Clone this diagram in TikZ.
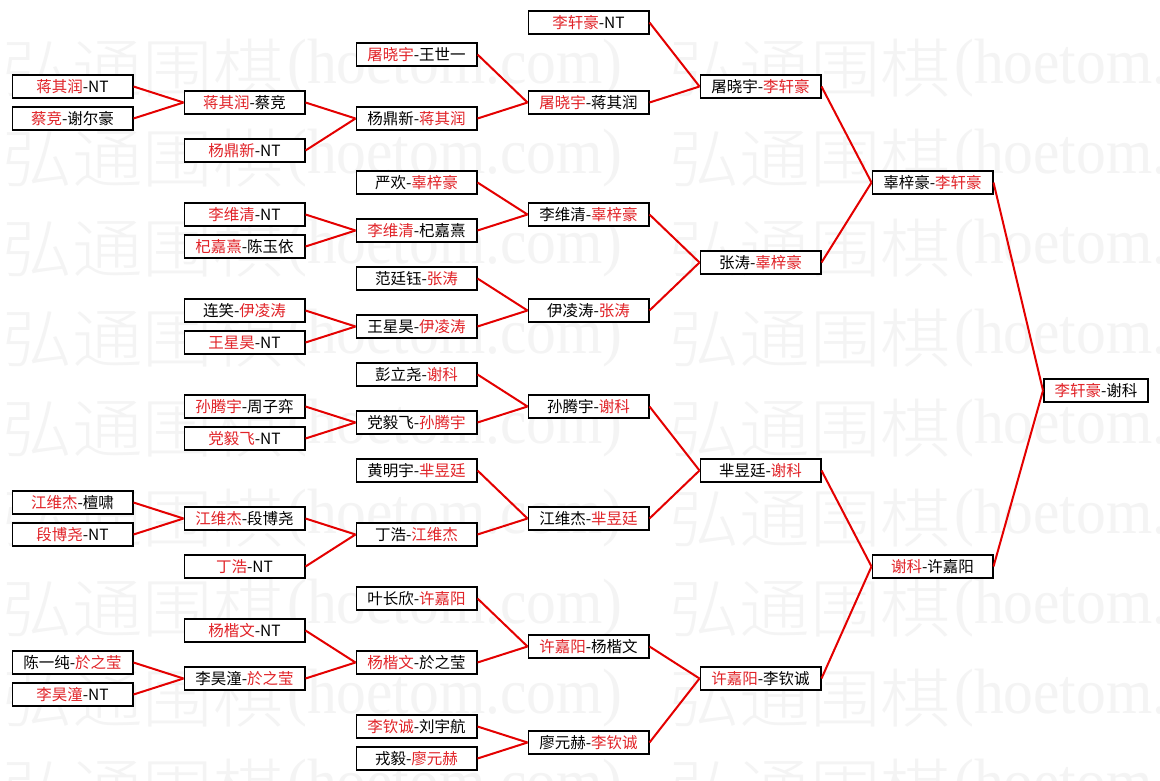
\documentclass[tikz,border=0pt]{standalone}
\usepackage{fontspec}
\setmainfont{Noto Sans CJK SC}
\newfontfamily\wmlatin{Liberation Serif}
\newfontfamily\wmcjk{Noto Sans CJK SC Light}
\definecolor{wred}{RGB}{225,35,40}
\definecolor{lred}{RGB}{228,0,0}
\definecolor{wmgray}{RGB}{244,244,244}
\newcommand{\R}[1]{\textcolor{wred}{#1}}
\tikzset{
  match/.style={draw=black, line width=1.8pt, fill=white, minimum width=120.2pt,
    minimum height=23.2pt, inner sep=0pt, font=\fontsize{15.5}{16}\selectfont},
  finalbox/.style={match, minimum width=104.2pt},
  link/.style={draw=lred, line width=2pt},
  wmark/.style={text=wmgray, inner sep=0pt, anchor=west, font=\fontsize{64}{64}\selectfont}
}
\begin{document}
\begin{tikzpicture}[x=1pt,y=-1pt]
\useasboundingbox (0,0) rectangle (1160,781);
\fill[white] (0,0) rectangle (1160,781);
\begin{scope}
\clip (0,0) rectangle (1160,781);
\foreach \y in {68,158,248,338,428,518,608,698,788}{
  \foreach \dx in {0,667}{
    \node[wmark] (wa) at (2+\dx,\y) {\scalebox{1.1}[1]{\wmcjk 弘通围棋}};
    \node[wmark] (wb) at (287+\dx,\y) {\scalebox{0.93}[1]{\wmlatin (hoetom.com)}};
  }
}
\end{scope}
% column 1
\node[match] (a1) at (72.5,86.5) {\R{蒋其润}-NT};
\node[match] (a2) at (72.5,118.5) {\R{蔡竞}-谢尔豪};
\node[match] (a3) at (72.5,502.5) {\R{江维杰}-檀啸};
\node[match] (a4) at (72.5,534.5) {\R{段博尧}-NT};
\node[match] (a5) at (72.5,662.5) {陈一纯-\R{於之莹}};
\node[match] (a6) at (72.5,694.5) {\R{李昊潼}-NT};
% column 2
\node[match] (b1) at (244.5,102.5) {\R{蒋其润}-蔡竞};
\node[match] (b2) at (244.5,150.5) {\R{杨鼎新}-NT};
\node[match] (b3) at (244.5,214.5) {\R{李维清}-NT};
\node[match] (b4) at (244.5,246.5) {\R{杞嘉熹}-陈玉依};
\node[match] (b5) at (244.5,310.5) {连笑-\R{伊凌涛}};
\node[match] (b6) at (244.5,342.5) {\R{王星昊}-NT};
\node[match] (b7) at (244.5,406.5) {\R{孙腾宇}-周子弈};
\node[match] (b8) at (244.5,438.5) {\R{党毅飞}-NT};
\node[match] (b9) at (244.5,518.5) {\R{江维杰}-段博尧};
\node[match] (b10) at (244.5,566.5) {\R{丁浩}-NT};
\node[match] (b11) at (244.5,630.5) {\R{杨楷文}-NT};
\node[match] (b12) at (244.5,678.5) {李昊潼-\R{於之莹}};
% column 3
\node[match] (c1) at (416.5,54.5) {\R{屠晓宇}-王世一};
\node[match] (c2) at (416.5,118.5) {杨鼎新-\R{蒋其润}};
\node[match] (c3) at (416.5,182.5) {严欢-\R{辜梓豪}};
\node[match] (c4) at (416.5,230.5) {\R{李维清}-杞嘉熹};
\node[match] (c5) at (416.5,278.5) {范廷钰-\R{张涛}};
\node[match] (c6) at (416.5,326.5) {王星昊-\R{伊凌涛}};
\node[match] (c7) at (416.5,374.5) {彭立尧-\R{谢科}};
\node[match] (c8) at (416.5,422.5) {党毅飞-\R{孙腾宇}};
\node[match] (c9) at (416.5,470.5) {黄明宇-\R{芈昱廷}};
\node[match] (c10) at (416.5,534.5) {丁浩-\R{江维杰}};
\node[match] (c11) at (416.5,598.5) {叶长欣-\R{许嘉阳}};
\node[match] (c12) at (416.5,662.5) {\R{杨楷文}-於之莹};
\node[match] (c13) at (416.5,726.5) {\R{李钦诚}-刘宇航};
\node[match] (c14) at (416.5,758.5) {戎毅-\R{廖元赫}};
% column 4
\node[match] (d1) at (588.5,22.5) {\R{李轩豪}-NT};
\node[match] (d2) at (588.5,102.5) {\R{屠晓宇}-蒋其润};
\node[match] (d3) at (588.5,214.5) {李维清-\R{辜梓豪}};
\node[match] (d4) at (588.5,310.5) {伊凌涛-\R{张涛}};
\node[match] (d5) at (588.5,406.5) {孙腾宇-\R{谢科}};
\node[match] (d6) at (588.5,518.5) {江维杰-\R{芈昱廷}};
\node[match] (d7) at (588.5,646.5) {\R{许嘉阳}-杨楷文};
\node[match] (d8) at (588.5,742.5) {廖元赫-\R{李钦诚}};
% column 5
\node[match] (e1) at (760.5,86.5) {屠晓宇-\R{李轩豪}};
\node[match] (e2) at (760.5,262.5) {张涛-\R{辜梓豪}};
\node[match] (e3) at (760.5,470.5) {芈昱廷-\R{谢科}};
\node[match] (e4) at (760.5,678.5) {\R{许嘉阳}-李钦诚};
% column 6
\node[match] (f1) at (932.5,182.5) {辜梓豪-\R{李轩豪}};
\node[match] (f2) at (932.5,566.5) {\R{谢科}-许嘉阳};
% final
\node[finalbox] (g) at (1096,390.5) {\R{李轩豪}-谢科};
% connectors
\foreach \s/\t in {a1/b1,a2/b1,a3/b9,a4/b9,a5/b12,a6/b12,
  b1/c2,b2/c2,b3/c4,b4/c4,b5/c6,b6/c6,b7/c8,b8/c8,b9/c10,b10/c10,b11/c12,b12/c12,
  c1/d2,c2/d2,c3/d3,c4/d3,c5/d4,c6/d4,c7/d5,c8/d5,c9/d6,c10/d6,c11/d7,c12/d7,c13/d8,c14/d8,
  d1/e1,d2/e1,d3/e2,d4/e2,d5/e3,d6/e3,d7/e4,d8/e4,
  e1/f1,e2/f1,e3/f2,e4/f2,f1/g,f2/g}{
  \draw[link] (\s.east) -- (\t.west);
}
\end{tikzpicture}
\end{document}
